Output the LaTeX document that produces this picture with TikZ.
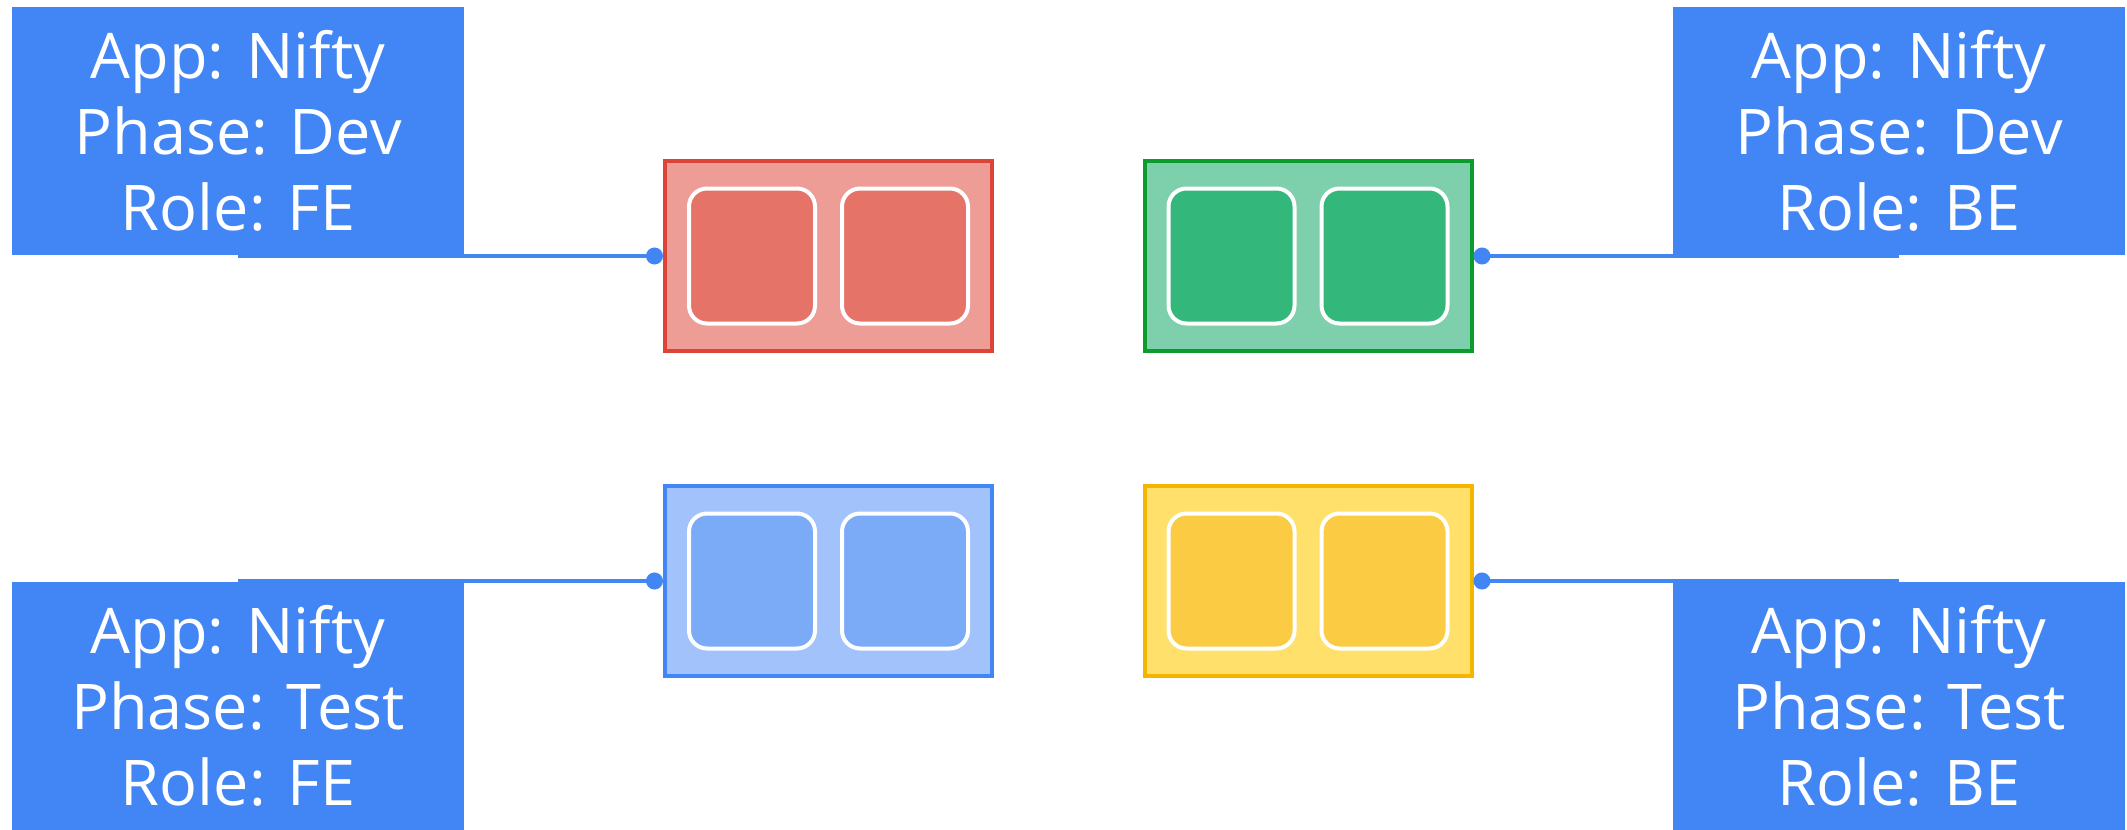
\documentclass[tikz,border=0pt]{standalone}
\usepackage{fontspec}
\newfontfamily\tagfont{Open Sans}
\usetikzlibrary{positioning,arrows.meta,calc}

\definecolor{gblue}{HTML}{4285F4}
\definecolor{redbd}{HTML}{DB4437}
\definecolor{redbg}{HTML}{ED9C96}
\definecolor{redin}{HTML}{E67368}
\definecolor{grnbd}{HTML}{0A9D2E}
\definecolor{grnbg}{HTML}{7DD0AB}
\definecolor{grnin}{HTML}{34B77B}
\definecolor{blubd}{HTML}{4285F4}
\definecolor{blubg}{HTML}{A1C2FA}
\definecolor{bluin}{HTML}{7BAAF7}
\definecolor{ylwbd}{HTML}{F4B400}
\definecolor{ylwbg}{HTML}{FFE06A}
\definecolor{ylwin}{HTML}{FACB43}

\begin{document}
\begin{tikzpicture}[
    x=0.5pt, y=-0.5pt,
    tag/.style={
        fill=gblue, text=white,
        minimum width=226pt,
        minimum height=124pt,
        inner sep=0pt,
        align=center,
        font=\tagfont\fontsize{31.5}{38}\selectfont
    },
    pod/.style={
        draw=#1bd, fill=#1bg,
        line width=2pt,
        minimum width=163.5pt,
        minimum height=95pt,
        inner sep=0pt
    },
    ctr/.style={
        draw=white, fill=#1in,
        line width=2pt,
        rounded corners=9pt,
        minimum width=63pt,
        minimum height=67.5pt,
        inner sep=0pt
    },
    link/.style={gblue, line width=1.75pt, -{Circle[length=8.5pt]}}
]
\useasboundingbox (0,0) rectangle (2127,830);

% Pods
\node[pod=red] (devfe)  at (828.5,256) {};
\node[pod=grn] (devbe)  at (1308,256)  {};
\node[pod=blu] (testfe) at (828.5,581) {};
\node[pod=ylw] (testbe) at (1308,581)  {};

% containers
\foreach \p/\c in {devfe/red, devbe/grn, testfe/blu, testbe/ylw} {
    \node[ctr=\c] (\p-l) at ($(\p)+(-76.5,0)$) {};
    \node[ctr=\c] (\p-r) at ($(\p)+(76.5,0)$) {};
}

% Labels
\node[tag] (devfe-tag)  at (238,131)  {App: Nifty\\Phase: Dev\\Role: FE};
\node[tag] (devbe-tag)  at (1899,131) {App: Nifty\\Phase: Dev\\Role: BE};
\node[tag] (testfe-tag) at (238,706)  {App: Nifty\\Phase: Test\\Role: FE};
\node[tag] (testbe-tag) at (1899,706) {App: Nifty\\Phase: Test\\Role: BE};

% Selectors
\draw[link] (devfe.west -| devfe-tag.south) -- (devfe.west);
\draw[link] (devbe.east -| devbe-tag.south) -- (devbe.east);
\draw[link] (testfe.west -| testfe-tag.north) -- (testfe.west);
\draw[link] (testbe.east -| testbe-tag.north) -- (testbe.east);

\end{tikzpicture}
\end{document}
